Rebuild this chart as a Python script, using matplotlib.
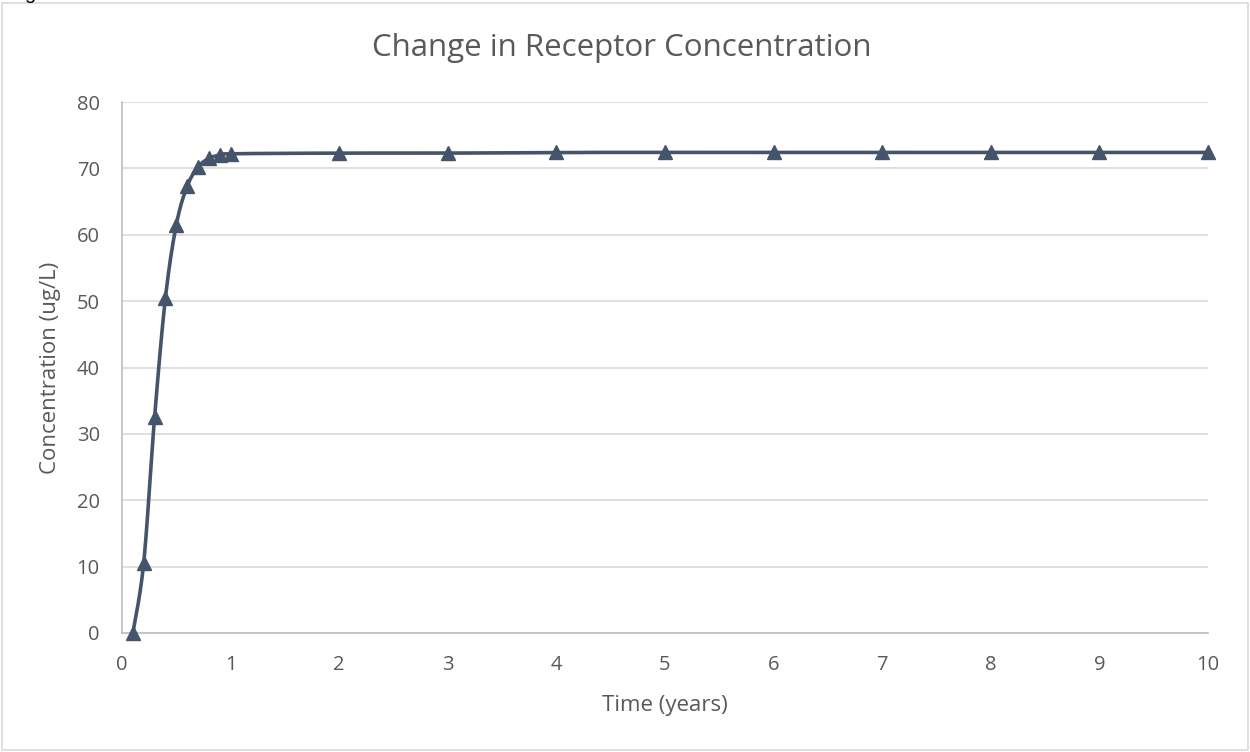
import numpy as np
import matplotlib
matplotlib.use("Agg")
import matplotlib.pyplot as plt
from matplotlib.patches import Rectangle

# ---- data ----
time_years = [0.1, 0.2, 0.3, 0.4, 0.5, 0.6, 0.7, 0.8, 0.9, 1.0,
              2, 3, 4, 5, 6, 7, 8, 9, 10]
concentration = [0.0, 10.6, 32.5, 50.5, 61.5, 67.3, 70.2, 71.5, 72.0, 72.2,
                 72.3, 72.3, 72.4, 72.4, 72.4, 72.4, 72.4, 72.4, 72.4]
x_ticks = list(range(0, 11))
y_ticks = list(range(0, 81, 10))
title = "Change in Receptor Concentration"
x_label = "Time (years)"
y_label = "Concentration (ug/L)"

LINE = "#44546A"
TEXT = "#595959"
GRID = "#D9D9D9"
FONT = ["Open Sans", "DejaVu Sans"]
plt.rcParams["font.family"] = FONT

fig = plt.figure(figsize=(12.5, 7.52), dpi=100)
ax = fig.add_axes([122/1250, 1 - 633/752, (1208-122)/1250, (633-102)/752])

ax.set_xlim(0, 10)
ax.set_ylim(0, 80)
ax.set_xticks(x_ticks)
ax.set_yticks(y_ticks)
ax.grid(axis="y", color=GRID, lw=1.2)
ax.set_axisbelow(True)
for s in ["top", "right"]:
    ax.spines[s].set_visible(False)
for s in ["left", "bottom"]:
    ax.spines[s].set_color("#BFBFBF")
    ax.spines[s].set_linewidth(1.2)
ax.tick_params(length=0, labelsize=14.5, colors=TEXT)
ax.tick_params(axis="x", pad=16)
ax.tick_params(axis="y", pad=16)

# smooth curve (Bezier through points, in display space, like Excel smoothing)
fig.canvas.draw()
pts = ax.transData.transform(np.column_stack([time_years, concentration]))
n = len(pts)
curve = []
for i in range(n - 1):
    p0 = pts[i - 1] if i > 0 else pts[i]
    p1 = pts[i]
    p2 = pts[i + 1]
    p3 = pts[i + 2] if i + 2 < n else pts[i + 1]
    c1 = p1 + (p2 - p0) / 6.0
    c2 = p2 - (p3 - p1) / 6.0
    t = np.linspace(0, 1, 30)[:, None]
    seg = ((1 - t) ** 3) * p1 + 3 * ((1 - t) ** 2) * t * c1 + 3 * (1 - t) * t ** 2 * c2 + t ** 3 * p2
    curve.append(seg if i == 0 else seg[1:])
curve = np.vstack(curve)
curve_data = ax.transData.inverted().transform(curve)
ax.plot(curve_data[:, 0], curve_data[:, 1], color=LINE, lw=2.6, solid_capstyle="round", zorder=3)
ax.plot(time_years, concentration, linestyle="none", marker="^", markersize=10.5,
        color=LINE, zorder=4, clip_on=False)

ax.set_xlabel(x_label, fontsize=16, color=TEXT, va="center")
ax.xaxis.set_label_coords(0.5, (633 - 705) / 531)
ax.set_ylabel(y_label, fontsize=16, color=TEXT, va="center")
ax.yaxis.set_label_coords((50 - 122) / 1086, 0.5)
fig.text(622/1250, 1 - 48/752, title, ha="center", va="center", fontsize=22.5, color=TEXT)

# chart border
fig.patches.append(Rectangle((2/1250, 1 - 750/752), 1246/1250, 747/752,
                             transform=fig.transFigure, fill=False, ec=GRID, lw=1.2))
# cropped caption fragment at the very top
fig.text(24/1250, 1 + 1.2/752, "g", ha="left", va="baseline", fontsize=14.5, color="black",
         family=["Liberation Sans", "DejaVu Sans"])

fig.savefig("out.png", dpi=100)
